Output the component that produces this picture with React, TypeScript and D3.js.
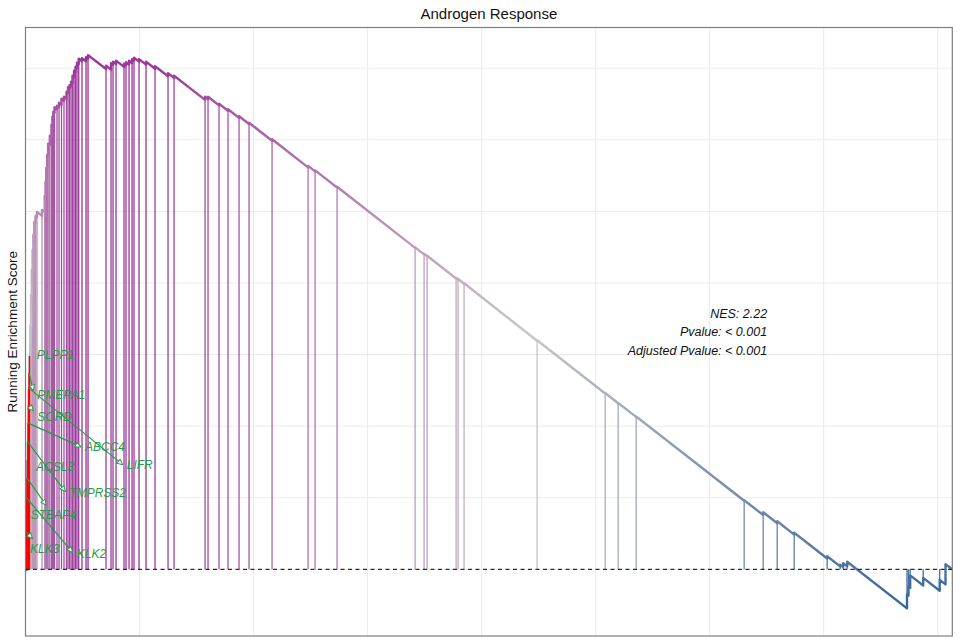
import { useEffect, useRef } from 'react';
import * as d3 from 'd3';

// ranked list length and the gene set hits (rank, running score before / after the hit)
const TOTAL_GENES = 20320;

const hitRank = [
  24, 30, 36, 44, 52, 60, 66, 72, 80, 88,
  103, 121, 138, 156, 173, 191, 219, 252, 362, 421,
  439, 456, 476, 496, 533, 570, 590, 610, 636, 691,
  735, 789, 844, 899, 932, 965, 998, 1031, 1064, 1097,
  1129, 1167, 1239, 1327, 1371, 1765, 1875, 1919, 1985, 2160,
  2204, 2270, 2336, 2379, 2489, 2643, 2840, 3125, 3257, 3936,
  4002, 4243, 4440, 4682, 4901, 5406, 6195, 6349, 6831, 8542,
  8739, 8805, 9441, 9484, 9616, 11217, 12709, 12994, 13389, 15757,
  16174, 16481, 16854, 17577, 17862, 17928, 18016, 19327, 19360, 19397,
  19682, 20044, 20171,
];

const esBefore = [
  -0.001, 0.0514, 0.099, 0.1269, 0.152, 0.1772, 0.2039, 0.2291, 0.2527, 0.2737,
  0.2972, 0.3404, 0.3824, 0.4173, 0.4453, 0.4663, 0.4839, 0.492, 0.4937, 0.4993,
  0.5208, 0.5404, 0.5599, 0.578, 0.5926, 0.6038, 0.62, 0.6312, 0.6378, 0.6427,
  0.6453, 0.649, 0.6545, 0.6573, 0.6654, 0.6717, 0.6745, 0.6794, 0.6878, 0.6948,
  0.7004, 0.7059, 0.7097, 0.7097, 0.7131, 0.6989, 0.698, 0.7048, 0.7059, 0.7018,
  0.7041, 0.7052, 0.7073, 0.7103, 0.7092, 0.7049, 0.6993, 0.6887, 0.6864, 0.6557,
  0.6569, 0.6481, 0.6406, 0.6306, 0.622, 0.5986, 0.5614, 0.5559, 0.5333, 0.449,
  0.4399, 0.4373, 0.4063, 0.4048, 0.3989, 0.3192, 0.2456, 0.2319, 0.2129, 0.0957,
  0.0758, 0.0643, 0.0485, 0.0151, 0.0041, 0.0031, 0.0041, -0.0545, -0.0366, -0.0256,
  -0.0225, -0.0299, -0.021,
];

const esAfter = [
  0.0517, 0.0993, 0.1273, 0.1524, 0.1776, 0.2042, 0.2294, 0.2531, 0.2741, 0.2979,
  0.3413, 0.3832, 0.4182, 0.4462, 0.4671, 0.4853, 0.4937, 0.4993, 0.5021, 0.5217,
  0.5413, 0.5608, 0.579, 0.5944, 0.6056, 0.621, 0.6322, 0.6392, 0.6455, 0.6476,
  0.6517, 0.6573, 0.6601, 0.6671, 0.6734, 0.6762, 0.6811, 0.6895, 0.6965, 0.7021,
  0.7077, 0.7133, 0.714, 0.7154, 0.7182, 0.7035, 0.707, 0.7091, 0.7105, 0.7063,
  0.7084, 0.7105, 0.7126, 0.7147, 0.7126, 0.7091, 0.7028, 0.693, 0.6895, 0.6601,
  0.6601, 0.6503, 0.6427, 0.6329, 0.6238, 0.6007, 0.5636, 0.5573, 0.5343, 0.4497,
  0.4406, 0.438, 0.407, 0.4055, 0.3996, 0.3199, 0.2462, 0.2324, 0.2134, 0.0965,
  0.0797, 0.0671, 0.051, 0.0182, 0.0063, 0.0084, 0.0105, -0.035, -0.0238, -0.0084,
  -0.0119, -0.0147, 0.007,
];

// highlighted genes and where their labels sit
const geneNames = ['KLK3', 'KLK2', 'STEAP4', 'ACSL3', 'TMPRSS2', 'ABCC4', 'SORD', 'LIFR', 'PMEPA1', 'PLPP1'];
const geneRank = [24, 30, 36, 44, 52, 60, 66, 72, 80, 88];
const labelRank = [99, 1123, 114, 230, 961, 1305, 259, 2219, 259, 246];
const labelES = [0.029, 0.022, 0.0755, 0.1431, 0.1067, 0.1702, 0.213, 0.1455, 0.2434, 0.2993];

const statLines = ['NES: 2.22', 'Pvalue: < 0.001', 'Adjusted Pvalue: < 0.001'];
const statRank = 16260;
const statES = 0.357;

const xBreaks = [2500, 5000, 7500, 10000, 12500, 15000, 17500, 20000];
const yBreaks = [0, 0.1, 0.2, 0.3, 0.4, 0.5, 0.6, 0.7];

const W = 960;
const H = 640;
const margin = { top: 27.5, right: 7.7, bottom: 4, left: 25.5 };
const FONT = "'Liberation Sans', Arial, Helvetica, sans-serif";
const GENE_COL = '#1f9f47';

const GseaPlot = () => {
  const ref = useRef<SVGSVGElement | null>(null);

  useEffect(() => {
    const svg = d3.select(ref.current);
    svg.selectAll('*').remove();

    const lo = Math.min(d3.min(esBefore)!, d3.min(esAfter)!);
    const hi = Math.max(d3.max(esBefore)!, d3.max(esAfter)!);
    const pad = (hi - lo) * 0.05;

    const x = d3.scaleLinear().domain([0, TOTAL_GENES]).range([margin.left, W - margin.right]);
    const y = d3.scaleLinear().domain([lo - pad, hi + pad]).range([H - margin.bottom, margin.top]);
    const color = d3.scaleLinear<string>()
      .domain([lo, (lo + hi) / 2, hi])
      .range(['#336699', '#c8c8c8', '#993399'])
      .interpolate(d3.interpolateLab);

    const defs = svg.append('defs');
    const grad = defs.append('linearGradient')
      .attr('id', 'esGrad')
      .attr('gradientUnits', 'userSpaceOnUse')
      .attr('x1', 0).attr('x2', 0)
      .attr('y1', y(lo)).attr('y2', y(hi));
    d3.range(11).forEach(i => {
      grad.append('stop')
        .attr('offset', i / 10)
        .attr('stop-color', color(lo + (hi - lo) * i / 10));
    });

    defs.append('marker')
      .attr('id', 'geneArrow')
      .attr('viewBox', '0 0 10 10')
      .attr('refX', 9.5).attr('refY', 5)
      .attr('markerWidth', 6.5).attr('markerHeight', 6.5)
      .attr('markerUnits', 'userSpaceOnUse')
      .attr('orient', 'auto')
      .append('path')
      .attr('d', 'M0.8,1 L9.5,5 L0.8,9 Z')
      .attr('fill', 'white')
      .attr('stroke', GENE_COL)
      .attr('stroke-width', 1.5);

    const [xl, xr] = x.range();
    const [yb, yt] = y.range();

    // grid
    const grid = svg.append('g').attr('stroke', '#ebebeb').attr('stroke-width', 1);
    grid.selectAll('.gx').data(xBreaks).enter().append('line')
      .attr('x1', d => x(d)).attr('x2', d => x(d))
      .attr('y1', yt).attr('y2', yb);
    grid.selectAll('.gy').data(yBreaks).enter().append('line')
      .attr('x1', xl).attr('x2', xr)
      .attr('y1', d => y(d)).attr('y2', d => y(d));

    // hit segments from 0 to the running score
    svg.append('g').selectAll('line').data(hitRank).enter().append('line')
      .attr('x1', d => x(d)).attr('x2', d => x(d))
      .attr('y1', y(0)).attr('y2', (_, i) => y(esAfter[i]))
      .attr('stroke', (_, i) => color(esAfter[i]))
      .attr('stroke-width', 1.3);

    // running enrichment score curve
    const pts: [number, number][] = [[0, 0]];
    hitRank.forEach((r, i) => {
      pts.push([r, esBefore[i]]);
      pts.push([r, esAfter[i]]);
    });
    pts.push([TOTAL_GENES, 0]);
    const line = d3.line<[number, number]>().x(d => x(d[0])).y(d => y(d[1]));
    svg.append('path')
      .attr('d', line(pts)!)
      .attr('fill', 'none')
      .attr('stroke', 'url(#esGrad)')
      .attr('stroke-width', 2.4)
      .attr('stroke-linejoin', 'round');

    // highlighted genes in red
    const geneES = geneRank.map(r => esAfter[hitRank.indexOf(r)]);
    svg.append('g').selectAll('line').data(geneRank).enter().append('line')
      .attr('x1', d => x(d)).attr('x2', d => x(d))
      .attr('y1', y(0)).attr('y2', (_, i) => y(geneES[i]))
      .attr('stroke', 'red')
      .attr('stroke-width', 1.4);

    // zero line
    svg.append('line')
      .attr('x1', xl).attr('x2', xr)
      .attr('y1', y(0)).attr('y2', y(0))
      .attr('stroke', 'black')
      .attr('stroke-width', 1)
      .attr('stroke-dasharray', '4,3.5');

    // panel border
    svg.append('rect')
      .attr('x', xl).attr('y', yt)
      .attr('width', xr - xl).attr('height', yb - yt)
      .attr('fill', 'none')
      .attr('stroke', '#7f7f7f')
      .attr('stroke-width', 1.2);

    // gene labels (repel style connectors)
    const segG = svg.append('g');
    const labG = svg.append('g');
    geneNames.forEach((name, i) => {
      const lx = x(labelRank[i]);
      const ly = y(labelES[i]);
      const t = labG.append('text')
        .attr('x', lx).attr('y', ly)
        .attr('dominant-baseline', 'central')
        .attr('font-family', FONT)
        .attr('font-style', 'italic')
        .attr('font-size', 12)
        .attr('fill', GENE_COL)
        .text(name);
      const w = (t.node() as SVGTextElement).getComputedTextLength();
      const b = [lx - 4, ly - 10, lx + w + 4, ly + 10];
      const px = x(geneRank[i]);
      const py = y(geneES[i]);
      let qx: number;
      let qy: number;
      let horiz = false;
      let vert = false;
      if (px < b[0]) { qx = b[0]; horiz = true; }
      else if (px > b[2]) { qx = b[2]; horiz = true; }
      else qx = px;
      if (py < b[1]) { qy = b[1]; vert = true; }
      else if (py > b[3]) { qy = b[3]; vert = true; }
      else qy = py;
      const midx = (b[0] + b[2]) / 2;
      const midy = (b[1] + b[3]) / 2;
      const d = Math.hypot(px - qx, py - qy);
      if (vert && !horiz) {
        const alt = Math.hypot(px - midx, py - qy);
        qx = qx + (midx - qx) * d / alt;
      } else if (horiz && !vert) {
        const alt = Math.hypot(px - qx, py - midy);
        qy = qy + (midy - qy) * d / alt;
      } else if (horiz && vert) {
        const alt1 = Math.hypot(px - midx, py - qy);
        const alt2 = Math.hypot(px - qx, py - midy);
        if (alt1 < alt2) qx = qx + (midx - qx) * d / alt1;
        else qy = qy + (midy - qy) * d / alt2;
      }
      if (Math.hypot(px - qx, py - qy) > 7.5) {
        segG.append('line')
          .attr('x1', px).attr('y1', py)
          .attr('x2', qx).attr('y2', qy)
          .attr('stroke', GENE_COL)
          .attr('stroke-width', 1.2)
          .attr('marker-end', 'url(#geneArrow)');
      }
    });

    // statistics
    svg.append('g').selectAll('text').data(statLines).enter().append('text')
      .attr('x', x(statRank))
      .attr('y', (_, i) => y(statES) + i * 18.5)
      .attr('text-anchor', 'end')
      .attr('dominant-baseline', 'central')
      .attr('font-family', FONT)
      .attr('font-style', 'italic')
      .attr('font-size', 12.5)
      .attr('fill', '#111')
      .text(d => d);

    // title and axis title
    svg.append('text')
      .attr('x', (xl + xr) / 2).attr('y', 13.5)
      .attr('text-anchor', 'middle')
      .attr('dominant-baseline', 'central')
      .attr('font-family', FONT)
      .attr('font-size', 15)
      .attr('fill', '#111')
      .text('Androgen Response');

    svg.append('text')
      .attr('transform', `translate(12.5,${(yt + yb) / 2}) rotate(-90)`)
      .attr('text-anchor', 'middle')
      .attr('dominant-baseline', 'central')
      .attr('font-family', FONT)
      .attr('font-size', 13.5)
      .attr('fill', '#111')
      .text('Running Enrichment Score');
  }, []);

  return (
    <svg
      ref={ref}
      width={W}
      height={H}
      style={{ position: 'absolute', left: 0, top: 0, background: 'white' }}
    />
  );
};

export default function App() {
  return <GseaPlot />;
}
